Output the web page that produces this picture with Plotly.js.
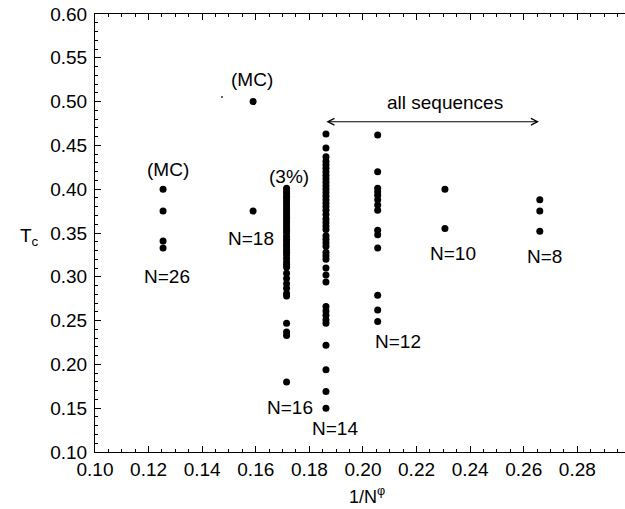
<!DOCTYPE html>
<html>
<head>
<meta charset="utf-8">
<script src="https://cdn.plot.ly/plotly-3.0.1.min.js"></script>
<style>html,body{margin:0;padding:0;background:#fff;}#chart{width:625px;height:509px;}</style>
</head>
<body>
<div id="chart"></div>
<script>
// 1/N^phi position of each chain length
const xN26 = 0.1254;
const xN18 = 0.1590;
const xN16 = 0.1715;
const xN14 = 0.1862;
const xN12 = 0.2055;
const xN10 = 0.2306;
const xN8  = 0.2660;

// Tc values
const tcN26 = [0.400, 0.375, 0.341, 0.333];
const tcN18 = [0.500, 0.375];
const tcN16 = [0.401, 0.398, 0.395, 0.392, 0.389, 0.386, 0.383, 0.380, 0.377, 0.374,
               0.371, 0.368, 0.365, 0.362, 0.359, 0.356, 0.353, 0.350, 0.346, 0.343,
               0.340, 0.337, 0.334, 0.331, 0.328, 0.325, 0.321, 0.317, 0.314, 0.311,
               0.304, 0.298, 0.292, 0.287, 0.281, 0.278,
               0.247, 0.237, 0.233, 0.180];
const tcN14 = [0.463, 0.447, 0.437, 0.432, 0.428, 0.424, 0.420, 0.416, 0.412, 0.408,
               0.404, 0.400, 0.396, 0.392, 0.388, 0.384, 0.380, 0.376, 0.371, 0.366,
               0.362, 0.358, 0.354, 0.347, 0.343, 0.339, 0.335, 0.328, 0.324, 0.320,
               0.310, 0.302, 0.294,
               0.266, 0.261, 0.256, 0.251, 0.247,
               0.222, 0.194, 0.169, 0.150];
const tcN12 = [0.462, 0.420, 0.401, 0.397, 0.393, 0.388, 0.382, 0.376,
               0.353, 0.348, 0.333, 0.279, 0.262, 0.249];
const tcN10 = [0.400, 0.355];
const tcN8  = [0.388, 0.375, 0.352];

const groups = [
  [xN26, tcN26], [xN18, tcN18], [xN16, tcN16], [xN14, tcN14],
  [xN12, tcN12], [xN10, tcN10], [xN8, tcN8]
];

// text labels [text, x, y]
const labels = [
  ['(MC)', 0.1272, 0.423],
  ['N=26', 0.1270, 0.300],
  ['(MC)', 0.1586, 0.525],
  ['N=18', 0.1582, 0.344],
  ['(3%)', 0.1724, 0.415],
  ['N=16', 0.1728, 0.151],
  ['N=14', 0.1896, 0.127],
  ['N=12', 0.2131, 0.226],
  ['N=10', 0.2336, 0.327],
  ['N=8',  0.2679, 0.323],
  ['all sequences', 0.2306, 0.4995]
];
const arrowFrom = [0.1858, 0.477];
const arrowTo = [0.2657, 0.477];

const xTicks = [0.10, 0.12, 0.14, 0.16, 0.18, 0.20, 0.22, 0.24, 0.26, 0.28];
const yTicks = [0.10, 0.15, 0.20, 0.25, 0.30, 0.35, 0.40, 0.45, 0.50, 0.55, 0.60];

const FONT = 'Liberation Sans, Arial, sans-serif';

const traces = groups.map(g => ({
  type: 'scatter', mode: 'markers',
  x: g[1].map(() => g[0]), y: g[1],
  marker: {color: '#000', size: 7},
  hoverinfo: 'skip', showlegend: false
}));
// tiny speck next to the upper MC point
traces.push({type: 'scatter', mode: 'markers', x: [0.1474], y: [0.5053],
  marker: {color: '#333', size: 2}, showlegend: false, hoverinfo: 'skip'});

const annotations = labels.map(l => ({
  text: l[0], x: l[1], y: l[2], xref: 'x', yref: 'y', showarrow: false,
  xanchor: 'center', yanchor: 'middle',
  font: {family: FONT, size: 19, color: '#000'}
}));
annotations.push({
  x: arrowTo[0], y: arrowTo[1], ax: arrowFrom[0], ay: arrowFrom[1],
  xref: 'x', yref: 'y', axref: 'x', ayref: 'y', text: '',
  showarrow: true, arrowside: 'end+start', arrowhead: 5, startarrowhead: 5,
  arrowsize: 1.3, startarrowsize: 1.3, arrowwidth: 1, arrowcolor: '#000'
});
annotations.push({
  text: 'T<sub>c</sub>', xref: 'paper', yref: 'y', x: -0.123, y: 0.345,
  xanchor: 'center', yanchor: 'middle',
  showarrow: false, font: {family: FONT, size: 19, color: '#000'}
});
annotations.push({
  text: '1/N<sup>φ</sup>', xref: 'x', yref: 'paper', x: 0.2015, y: -0.100,
  xanchor: 'center', yanchor: 'middle',
  showarrow: false, font: {family: FONT, size: 18, color: '#000'}
});

const layout = {
  width: 625, height: 509,
  margin: {l: 95, r: 0, t: 14, b: 57},
  paper_bgcolor: '#fff', plot_bgcolor: '#fff',
  font: {family: FONT, size: 19, color: '#000'},
  xaxis: {
    range: [0.1, 0.2978], tickvals: xTicks,
    ticktext: xTicks.map(v => v.toFixed(2)),
    ticks: 'inside', ticklen: 6, tickwidth: 1, tickcolor: '#000',
    minor: {dtick: 0.005, tick0: 0.1, ticks: 'inside', ticklen: 3, tickcolor: '#000'},
    showline: true, linecolor: '#000', linewidth: 1, mirror: 'ticks',
    showgrid: false, zeroline: false,
    tickfont: {family: FONT, size: 19, color: '#000'}
  },
  yaxis: {
    range: [0.1, 0.6], tickvals: yTicks,
    ticktext: yTicks.map(v => v.toFixed(2)),
    ticks: 'inside', ticklen: 6, tickwidth: 1, tickcolor: '#000',
    minor: {dtick: 0.01, tick0: 0.1, ticks: 'inside', ticklen: 3, tickcolor: '#000'},
    showline: true, linecolor: '#000', linewidth: 1, mirror: false,
    showgrid: false, zeroline: false, ticklabelstandoff: 3,
    tickfont: {family: FONT, size: 19, color: '#000'}
  },
  annotations: annotations
};

Plotly.newPlot('chart', traces, layout, {staticPlot: true, displayModeBar: false});
</script>
</body>
</html>
